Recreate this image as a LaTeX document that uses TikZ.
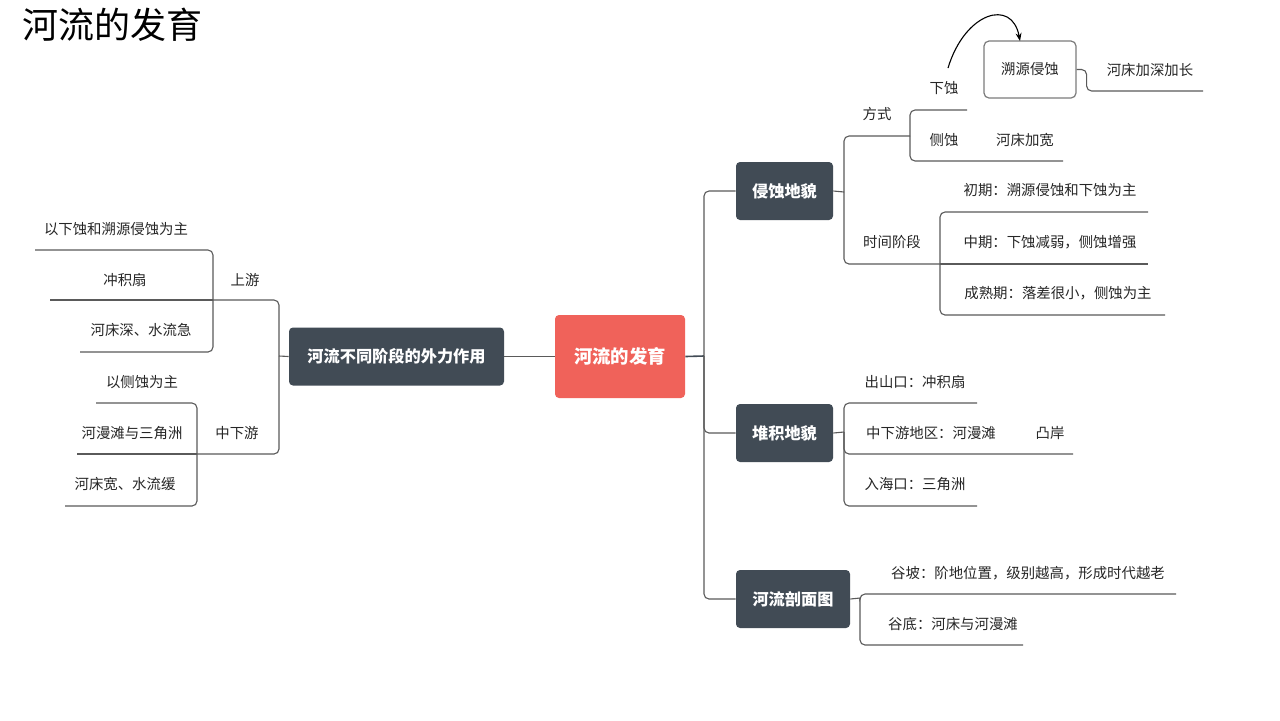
\documentclass[tikz,border=0pt]{standalone}
\usepackage{fontspec}
\setmainfont{Noto Sans CJK SC}
\usetikzlibrary{arrows.meta}
\definecolor{redbox}{HTML}{F0625A}
\definecolor{darkbox}{HTML}{414B55}
\definecolor{txt}{HTML}{262626}
\definecolor{ln}{HTML}{5A5A5A}
\begin{document}
\begin{tikzpicture}[x=0.5pt,y=-0.5pt,
  lbl/.style={text=txt, font=\fontsize{7.2}{8}\selectfont, inner sep=0pt, anchor=center},
  mainbox/.style={fill=darkbox, rounded corners=2pt, text=white, font=\fontsize{8.1}{9}\selectfont\bfseries, inner sep=0pt, minimum height=29pt},
  wire/.style={draw=ln, line width=0.55pt, rounded corners=2.5pt},
]
\useasboundingbox (0,0) rectangle (1280,720);
\fill[white] (0,0) rectangle (1280,720);

% title
\node[anchor=west, inner sep=0pt, text=black, font=\fontsize{18}{20}\selectfont] (title) at (22,25) {河流的发育};

% central and main nodes
\node[fill=redbox, rounded corners=2pt, text=white, font=\fontsize{9.2}{10}\selectfont\bfseries, inner sep=0pt, minimum width=65pt, minimum height=41.5pt] (root) at (620,356.5) {河流的发育};
\node[mainbox, minimum width=107.5pt] (left) at (396.5,356.5) {河流不同阶段的外力作用};
\node[mainbox, minimum width=48.5pt] (ero) at (784.5,191) {侵蚀地貌};
\node[mainbox, minimum width=48.5pt] (dep) at (784.5,433) {堆积地貌};
\node[mainbox, minimum width=57pt] (prof) at (793,599) {河流剖面图};

% root connectors
\draw[wire] (root.west) -- (left.east);
\coordinate (rs) at (704,356);
\draw[wire, line width=0.8pt, draw=darkbox] (root.east) -- (rs);
\draw[wire] (rs) |- (ero.west);
\draw[wire] (rs) |- (dep.west);
\draw[wire] (rs) |- (prof.west);

% ---------------- left side ----------------
\coordinate (ls) at (279,356);
\draw[wire] (left.west) -- (ls);
\coordinate (up) at (213,300);
\coordinate (u1e) at (35,250);
\coordinate (u2e) at (50,300);
\coordinate (u3e) at (80,352);
\draw[wire] (ls) |- (up);
\draw[wire] (up) -- (u2e);
\draw[wire] (up) |- (u1e);
\draw[wire] (up) |- (u3e);
\node[lbl] (shangyou) at (245,280) {上游};
\node[lbl] (u1) at (116,229) {以下蚀和溯源侵蚀为主};
\node[lbl] (u2) at (125,280) {冲积扇};
\node[lbl] (u3) at (141,330) {河床深、水流急};

\coordinate (lo) at (197,454);
\coordinate (l1e) at (96,403);
\coordinate (l2e) at (77,454);
\coordinate (l3e) at (65,506);
\draw[wire] (ls) |- (lo);
\draw[wire] (lo) -- (l2e);
\draw[wire] (lo) |- (l1e);
\draw[wire] (lo) |- (l3e);
\node[lbl] (zhongxia) at (237,433) {中下游};
\node[lbl] (l1) at (142,382) {以侧蚀为主};
\node[lbl] (l2) at (132,433) {河漫滩与三角洲};
\node[lbl] (l3) at (125,484) {河床宽、水流缓};

% ---------------- erosion ----------------
\coordinate (e) at (844,192);
\coordinate (fs) at (910,136);
\coordinate (sj) at (940,264);
\draw[wire] (ero.east) -- (e);
\draw[wire] (e) |- (fs);
\draw[wire] (e) |- (sj);
\node[lbl] (fangshi) at (877,114) {方式};
\node[lbl] (shijian) at (892,242) {时间阶段};

\coordinate (xse) at (967,110);
\coordinate (cse) at (1063,161);
\draw[wire] (fs) |- (xse);
\draw[wire] (fs) |- (cse);
\node[lbl] (xiashi) at (944,88) {下蚀};
\node[lbl] (ceshi) at (944,140) {侧蚀};
\node[lbl] (kuan) at (1025,140) {河床加宽};

\node[draw=ln!80, line width=0.6pt, fill=white, rounded corners=2.5pt, minimum width=46pt, minimum height=28.5pt, inner sep=0pt, text=txt, font=\fontsize{7.2}{8}\selectfont] (szqs) at (1030,69.5) {溯源侵蚀};
\coordinate (jse) at (1203,91);
\draw[wire] (szqs.east) -- ++(10,0) |- (jse);
\node[lbl] (jiashen) at (1150,70) {河床加深加长};
\coordinate (arrS) at (948,68);
\coordinate (arrE) at (1020,41);
\draw[black, line width=0.55pt, -{Stealth[length=4pt,width=3pt]}] (arrS) .. controls (965,12) and (1012,-2) .. (arrE);

\coordinate (t1e) at (1148,212);
\coordinate (t2e) at (1148,264);
\coordinate (t3e) at (1165,315);
\draw[wire] (sj) -- (t2e);
\draw[wire] (sj) |- (t1e);
\draw[wire] (sj) |- (t3e);
\node[lbl] (t1) at (1050,190) {初期：溯源侵蚀和下蚀为主};
\node[lbl] (t2) at (1050,242) {中期：下蚀减弱，侧蚀增强};
\node[lbl] (t3) at (1058,293) {成熟期：落差很小，侧蚀为主};

% ---------------- deposition ----------------
\coordinate (d) at (844,432);
\coordinate (d1e) at (977,403);
\coordinate (d2e) at (1073,454);
\coordinate (d3e) at (977,506);
\draw[wire] (dep.east) -- (d);
\draw[wire] (d) |- (d1e);
\draw[wire] (d) |- (d2e);
\draw[wire] (d) |- (d3e);
\node[lbl] (d1) at (915,382) {出山口：冲积扇};
\node[lbl] (d2) at (931,433) {中下游地区：河漫滩};
\node[lbl] (tuan) at (1050,433) {凸岸};
\node[lbl] (d3) at (915,484) {入海口：三角洲};

% ---------------- profile ----------------
\coordinate (p) at (860,598);
\coordinate (p1e) at (1176,594);
\coordinate (p2e) at (1023,645);
\draw[wire] (prof.east) -- (p);
\draw[wire] (p) |- (p1e);
\draw[wire] (p) |- (p2e);
\node[lbl] (p1) at (1028,573) {谷坡：阶地位置，级别越高，形成时代越老};
\node[lbl] (p2) at (953,624) {谷底：河床与河漫滩};
\end{tikzpicture}
\end{document}
